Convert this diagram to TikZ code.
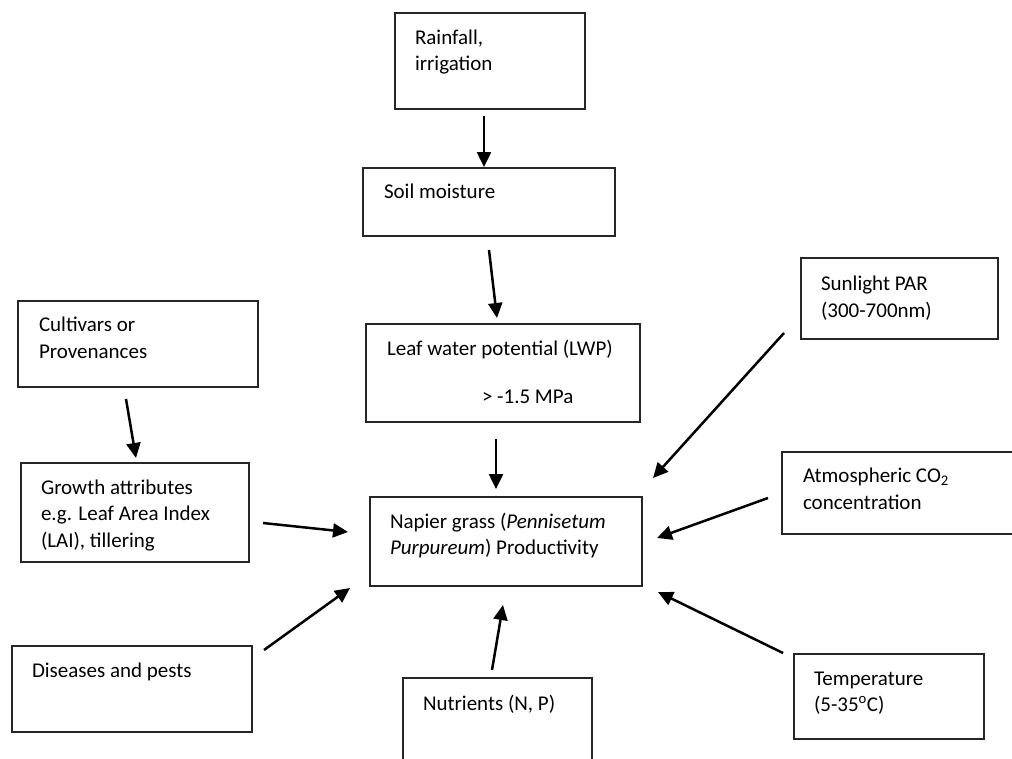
\documentclass[tikz,border=0pt]{standalone}
\usepackage{fontspec}
\setmainfont{Carlito}
\usetikzlibrary{arrows.meta}
\begin{document}
\begin{tikzpicture}[x=1pt,y=-1pt,
  box/.style={draw=black!85, line width=1.2pt, inner sep=0pt, outer sep=0pt, anchor=north west},
  lbl/.style={anchor=base west, inner sep=0pt, outer sep=0pt, align=left, font=\fontsize{21}{26.5}\selectfont},
  arr/.style={line width=2.5pt, -{Triangle[length=15pt,width=14pt]}}]
\useasboundingbox[fill=white] (0,0) rectangle (1012,758);
\clip (0,0) rectangle (1012,758);
% boxes
\node[box, minimum width=190pt, minimum height=96pt] (rain) at (395,13) {};
\node[box, minimum width=252pt, minimum height=68pt] (soil) at (363,168) {};
\node[box, minimum width=274pt, minimum height=98pt] (lwp) at (366,324) {};
\node[box, minimum width=272pt, minimum height=89pt] (napier) at (370,497) {};
\node[box, minimum width=240pt, minimum height=86pt] (cult) at (18,301) {};
\node[box, minimum width=228pt, minimum height=99pt] (growth) at (21,463) {};
\node[box, minimum width=240pt, minimum height=86pt] (dis) at (12,646) {};
\node[box, minimum width=189pt, minimum height=100pt] (nutr) at (403,678) {};
\node[box, minimum width=197pt, minimum height=81pt] (sun) at (801,258) {};
\node[box, minimum width=240pt, minimum height=82pt] (co2) at (782,452) {};
\node[box, minimum width=190pt, minimum height=85pt] (temp) at (794,654) {};
% texts (multi-line texts are placed by the baseline of their last line)
\node[lbl] (raint) at (415,70.5) {Rainfall,\\irrigation};
\node[lbl] (soilt) at (384,198) {Soil moisture};
\node[lbl] (lwpt) at (387,355) {Leaf water potential (LWP)};
\node[lbl] (lwpv) at (482,403) {> -1.5 MPa};
\node[lbl] (napiert) at (390,554.5) {Napier grass (\textit{Pennisetum}\\\textit{Purpureum}) Productivity};
\node[lbl] (cultt) at (39,358) {Cultivars or\\Provenances};
\node[lbl] (growtht) at (41,547) {Growth attributes\\e.g. Leaf Area Index\\(LAI), tillering};
\node[lbl] (dist) at (32,677) {Diseases and pests};
\node[lbl] (nutrt) at (423,710) {Nutrients (N, P)};
\node[lbl] (sunt) at (821,317) {Sunlight PAR\\(300-700nm)};
\node[lbl] (co2t) at (803,509) {Atmospheric CO\textsubscript{2}\\concentration};
\node[lbl] (tempt) at (814,711.5) {Temperature\\(5-35\textsuperscript{o}C)};
% arrow ends
\coordinate (a1s) at (484,116); \coordinate (a1e) at (484,167);
\coordinate (a2s) at (489,250); \coordinate (a2e) at (497,318);
\coordinate (a3s) at (496,439); \coordinate (a3e) at (496,489);
\coordinate (a4s) at (126,399); \coordinate (a4e) at (136,458);
\coordinate (a5s) at (263,523); \coordinate (a5e) at (348,532);
\coordinate (a6s) at (264,650); \coordinate (a6e) at (350,588);
\coordinate (a7s) at (492,670); \coordinate (a7e) at (503,605);
\coordinate (a8s) at (784,333); \coordinate (a8e) at (653,478);
\coordinate (a9s) at (768,498); \coordinate (a9e) at (657,538);
\coordinate (a10s) at (783,653); \coordinate (a10e) at (658,592);
\draw[arr] (a1s) -- (a1e);
\draw[arr] (a2s) -- (a2e);
\draw[arr] (a3s) -- (a3e);
\draw[arr] (a4s) -- (a4e);
\draw[arr] (a5s) -- (a5e);
\draw[arr] (a6s) -- (a6e);
\draw[arr] (a7s) -- (a7e);
\draw[arr] (a8s) -- (a8e);
\draw[arr] (a9s) -- (a9e);
\draw[arr] (a10s) -- (a10e);
\end{tikzpicture}
\end{document}
